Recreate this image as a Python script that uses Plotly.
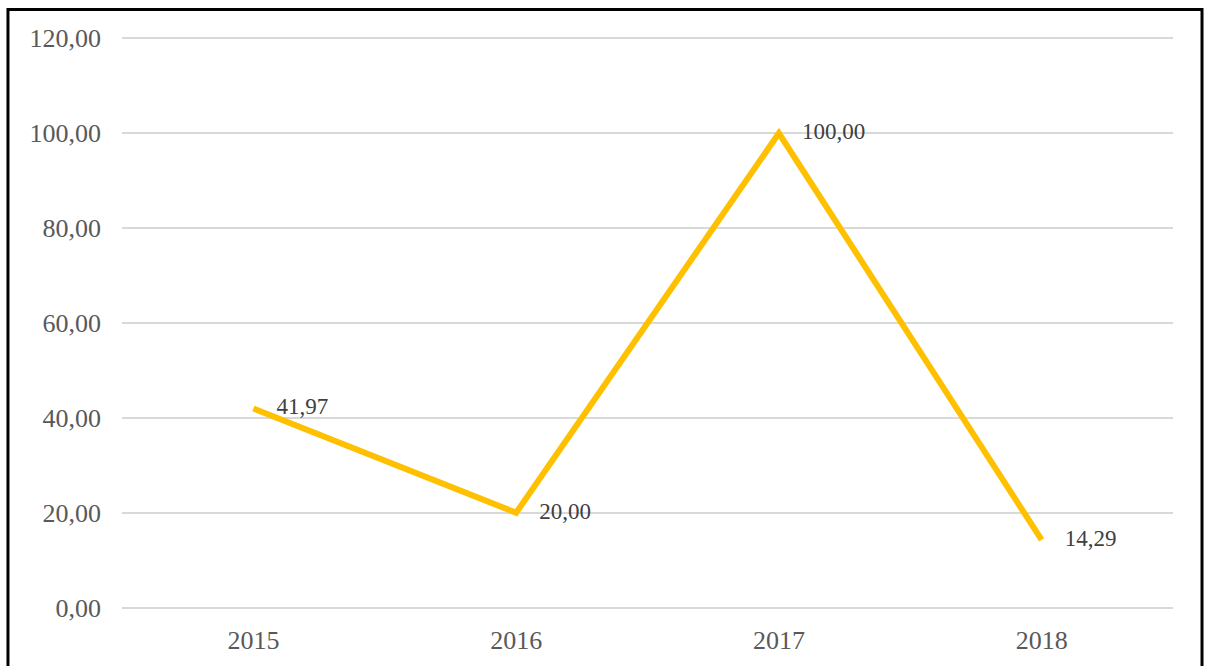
import plotly.graph_objects as go

years = ["2015", "2016", "2017", "2018"]
values = [41.97, 20.00, 100.00, 14.29]
y_ticks = [0, 20, 40, 60, 80, 100, 120]

labels = [f"{v:.2f}".replace(".", ",") for v in values]

fig = go.Figure()
fig.add_trace(go.Scatter(
    x=years, y=values, mode="lines",
    line=dict(color="#FFC000", width=6),
    hoverinfo="skip", showlegend=False,
))
fig.add_trace(go.Scatter(
    x=years, y=values, mode="text",
    text=["\u00a0\u00a0\u00a0\u00a0" + t for t in labels],
    textposition="middle right",
    textfont=dict(family="Liberation Serif", size=23, color="#404040"),
    hoverinfo="skip", showlegend=False,
))

# outer frame
fig.add_shape(type="rect", xref="paper", yref="paper",
              x0=-0.1085, x1=1.0276, y0=-0.2, y1=1.046,
              line=dict(color="black", width=3), fillcolor="rgba(0,0,0,0)",
              layer="below")

fig.update_layout(
    width=1208, height=666,
    margin=dict(l=122, r=35, t=36, b=56),
    paper_bgcolor="white", plot_bgcolor="white",
    separators=",.",
    font=dict(family="Liberation Serif", size=26, color="#595959"),
    xaxis=dict(
        type="category", range=[-0.5, 3.5],
        showgrid=False, zeroline=False, showline=False,
        ticks="", ticklabelstandoff=12,
        tickfont=dict(family="Liberation Serif", size=26, color="#595959"),
    ),
    yaxis=dict(
        range=[-0.5, 120.5], tickvals=y_ticks, tickformat=".2f",
        showgrid=True, gridcolor="#D9D9D9", gridwidth=2,
        zeroline=False, showline=False, ticks="",
        ticklabelstandoff=20,
        tickfont=dict(family="Liberation Serif", size=26, color="#595959"),
    ),
)

fig.write_html("out.html", config={"displayModeBar": False},
               post_script="document.body.style.margin='0';")
